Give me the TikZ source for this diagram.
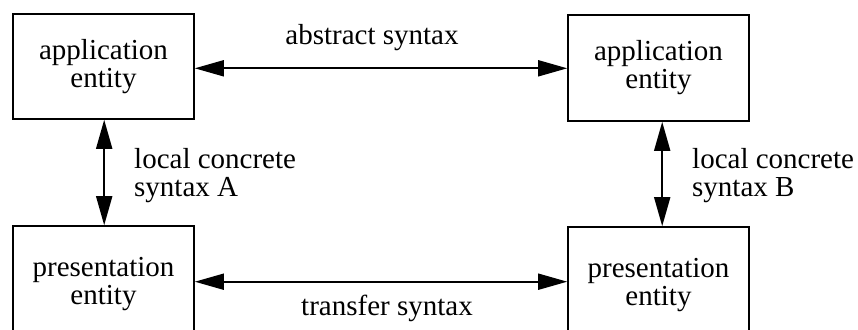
\documentclass[tikz,border=0pt]{standalone}
\usepackage{fontspec}
\setmainfont{Liberation Serif}
\usetikzlibrary{arrows.meta}
\begin{document}
\begin{tikzpicture}[x=1pt,y=-1pt,
  entity/.style={draw,line width=1.6pt,minimum width=181pt,align=center,
    font=\fontsize{29}{28}\selectfont,inner sep=0pt},
  lbl/.style={font=\fontsize{29}{28}\selectfont,inner sep=0pt,align=left},
  arr/.style={line width=1.8pt,{Triangle[length=29pt,width=16pt]}-{Triangle[length=29pt,width=16pt]}}]
\useasboundingbox (0,0) rectangle (858,329);
\clip (0,0) rectangle (858,329);
% the four entities
\node[entity,minimum height=105pt] (la) at (103.5,66.5) {application\\entity};
\node[entity,minimum height=106pt] (ra) at (658.5,68) {application\\entity};
\node[entity,minimum height=116pt] (lp) at (103.5,284) {presentation\\entity};
\node[entity,minimum height=116pt] (rp) at (658.5,285) {presentation\\entity};
% syntax relations
\coordinate (t) at (0,68.3);
\coordinate (b) at (0,281.7);
\coordinate (l) at (104.2,0);
\coordinate (r) at (662.2,0);
\draw[arr] (la.east |- t) -- (ra.west |- t);
\draw[arr] (lp.east |- b) -- (rp.west |- b);
\draw[arr] (l |- la.south) -- (l |- lp.north);
\draw[arr] (r |- ra.south) -- (r |- rp.north);
% labels
\node[lbl,anchor=base] (abs) at (372,45) {abstract syntax};
\node[lbl,anchor=base] (tr) at (387,315) {transfer syntax};
\node[lbl,anchor=west] (lca) at (134,176) {local concrete\\syntax A};
\node[lbl,anchor=west] (lcb) at (692,176) {local concrete\\syntax B};
\end{tikzpicture}
\end{document}
